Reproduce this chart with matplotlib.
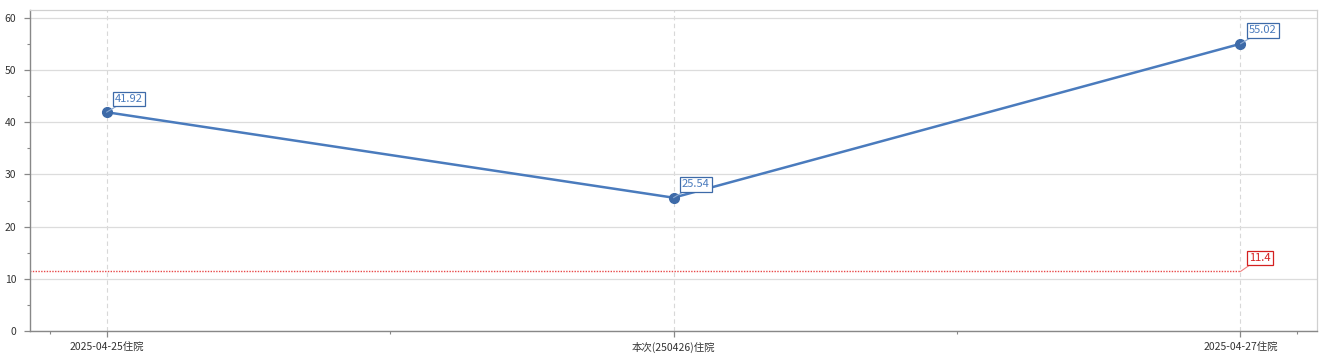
import matplotlib
matplotlib.use('Agg')
import matplotlib.pyplot as plt
from matplotlib.ticker import MultipleLocator, FixedLocator

plt.rcParams['font.family'] = ['Noto Sans CJK SC', 'DejaVu Sans']

categories = ['2025-04-25住院', '本次(250426)住院', '2025-04-27住院']
values = [41.92, 25.54, 55.02]
ref_value = 11.4
ref_label = '11.4'

line_color = '#4a7bbd'
marker_color = '#3d6aa8'
red = '#d42020'

fig = plt.figure(figsize=(13.35, 3.6), dpi=100)
ax = fig.add_axes([30 / 1335, 1 - 331 / 360, 1287 / 1335, 321 / 360])

x = list(range(len(categories)))
ax.plot(x, values, color=line_color, lw=1.8, marker='o', markersize=7,
        markerfacecolor=marker_color, markeredgecolor=marker_color, zorder=3)

# reference line (dotted) up to last category
ax.plot([-0.2, x[-1]], [ref_value, ref_value], color='#e84848', lw=1.0,
        linestyle=(0, (1, 1)), zorder=2)

for xi, v in zip(x, values):
    ax.annotate(f'{v:.2f}', xy=(xi, v), xytext=(6, 6), textcoords='offset points',
                ha='left', va='bottom', fontsize=8, color=line_color,
                bbox=dict(boxstyle='square,pad=0.2', fc='white', ec=marker_color, lw=0.9),
                arrowprops=dict(arrowstyle='-', color='#8aa8d0', lw=0.8,
                                shrinkA=0, shrinkB=0), zorder=4)

ax.annotate(ref_label, xy=(x[-1], ref_value), xytext=(6, 6), textcoords='offset points',
            ha='left', va='bottom', fontsize=8, color=red,
            bbox=dict(boxstyle='square,pad=0.2', fc='white', ec=red, lw=0.9),
            arrowprops=dict(arrowstyle='-', color='#f08080', lw=0.8,
                            shrinkA=0, shrinkB=0), zorder=4)

ax.set_xlim(-0.135, 2.135)
ax.set_ylim(0, 61.5)
ax.set_xticks(x)
ax.set_xticklabels(categories)
ax.xaxis.set_minor_locator(FixedLocator([-0.1, 0.5, 1.5, 2.1]))
ax.yaxis.set_major_locator(MultipleLocator(10))
ax.yaxis.set_minor_locator(MultipleLocator(5))

ax.grid(True, axis='y', which='major', color='#dcdcdc', lw=0.9, zorder=0)
ax.grid(True, axis='x', which='major', color='#d8d8d8', lw=0.8, linestyle=(0, (4, 3)), zorder=0)
ax.set_axisbelow(True)

for s in ['left', 'bottom']:
    ax.spines[s].set_color('#888888')
    ax.spines[s].set_linewidth(1.0)
for s in ['top', 'right']:
    ax.spines[s].set_color('#d0d0d0')
    ax.spines[s].set_linewidth(0.9)

ax.tick_params(axis='both', which='major', labelsize=7.5, colors='#888888',
               labelcolor='#333333', length=4, width=0.9)
ax.tick_params(axis='both', which='minor', colors='#888888', length=2.5, width=0.8)
ax.tick_params(axis='y', pad=6)
ax.tick_params(axis='x', pad=10)
for lab in ax.get_xticklabels():
    lab.set_verticalalignment('baseline')

fig.savefig('out.png', dpi=100)
